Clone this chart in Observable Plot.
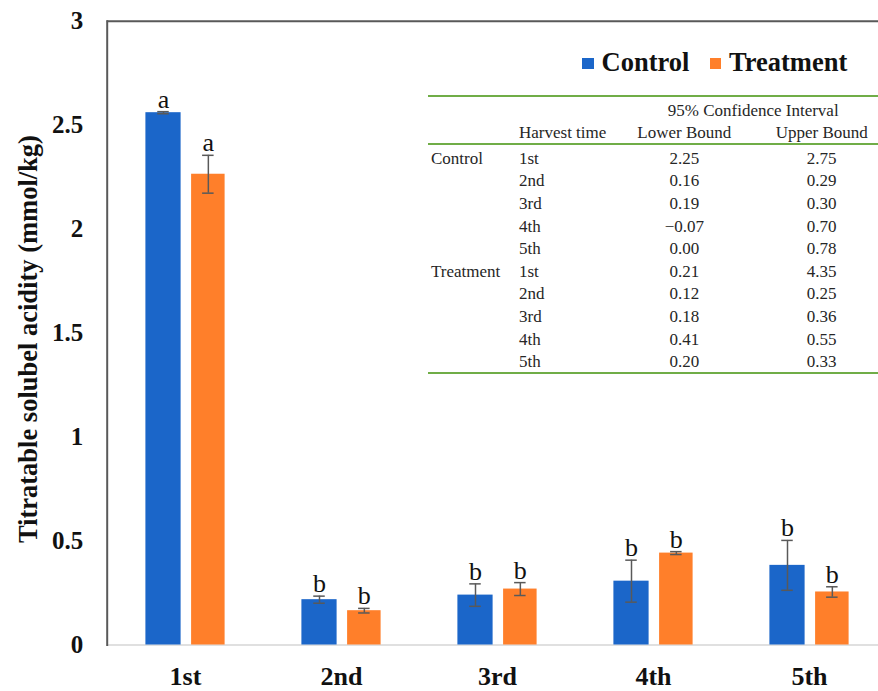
<!DOCTYPE html>
<html><head><meta charset="utf-8">
<script src="https://cdn.jsdelivr.net/npm/d3@7"></script>
<script src="https://cdn.jsdelivr.net/npm/@observablehq/plot@0.6"></script>
<style>
body{margin:0;background:#fff;}
#wrap{position:relative;width:878px;height:691px;font-family:"Liberation Serif","Times New Roman",serif;overflow:hidden;}
.t{position:absolute;font-size:17px;line-height:17px;color:#262626;white-space:nowrap;font-family:"Liberation Serif","Times New Roman",serif;}
.c{transform:translateX(-50%);}
.g{position:absolute;left:428px;width:450px;height:2px;background:#70ad47;}
.lg{position:absolute;font-size:26.5px;line-height:26.5px;font-weight:bold;color:#111;white-space:nowrap;font-family:"Liberation Serif","Times New Roman",serif;}
.sq{position:absolute;width:11.5px;height:11.5px;}
</style></head><body><div id="wrap"></div>
<script>
// ---- data ----
const times = ["1st", "2nd", "3rd", "4th", "5th"];
const controlMean = [2.56, 0.218, 0.240, 0.307, 0.383];
const controlErr  = [0.005, 0.017, 0.054, 0.101, 0.120];
const treatMean   = [2.264, 0.165, 0.269, 0.442, 0.255];
const treatErr    = [0.091, 0.011, 0.031, 0.007, 0.025];
const controlLetters = ["a", "b", "b", "b", "b"];
const treatLetters   = ["a", "b", "b", "b", "b"];
const yTicks = [0, 0.5, 1, 1.5, 2, 2.5, 3];
const seriesNames = ["Control", "Treatment"];
const seriesColors = ["#1b66c9", "#ff7f2a"];

// confidence-interval table
const ciGroups = ["Control", "Treatment"];
const ctrlLower = ["2.25", "0.16", "0.19", "\u22120.07", "0.00"];
const ctrlUpper = ["2.75", "0.29", "0.30", "0.70", "0.78"];
const trtLower  = ["0.21", "0.12", "0.18", "0.41", "0.20"];
const trtUpper  = ["4.35", "0.25", "0.36", "0.55", "0.33"];

const ctrl = times.map((t, i) => ({time: t, value: controlMean[i], err: controlErr[i], letter: controlLetters[i]}));
const trt  = times.map((t, i) => ({time: t, value: treatMean[i], err: treatErr[i], letter: treatLetters[i]}));

const font = "Liberation Serif, Times New Roman, serif";
const band = 156.5, half = band / 2;
const cOff = -22, tOff = 22.85;
const capHalf = 6;

function series(data, color, off, barL, barR) {
  return [
    Plot.barY(data, {x: "time", y: "value", fill: color, insetLeft: barL, insetRight: barR}),
    Plot.ruleX(data, {x: "time", y1: d => d.value - d.err, y2: d => d.value + d.err, dx: off, stroke: "#595959", strokeWidth: 1.5}),
    Plot.tickY(data, {x: "time", y: d => d.value + d.err, stroke: "#595959", strokeWidth: 1.5,
      insetLeft: half + off - capHalf, insetRight: half - off - capHalf}),
    Plot.tickY(data, {x: "time", y: d => d.value - d.err, stroke: "#595959", strokeWidth: 1.5,
      insetLeft: half + off - capHalf, insetRight: half - off - capHalf}),
    Plot.text(data, {x: "time", y: d => d.value + d.err, text: "letter", dx: off, dy: -4, lineAnchor: "bottom",
      fontSize: 26, fontFamily: font, fill: "#111"})
  ];
}

const chart = Plot.plot({
  width: 878, height: 691,
  marginTop: 20.7, marginBottom: 46.5, marginLeft: 106.7, marginRight: 0,
  style: {fontFamily: font, background: "transparent", overflow: "visible"},
  x: {type: "band", domain: times, range: [106.1, 106.1 + 5 * band], padding: 0, label: null},
  y: {domain: [0, 3], label: null},
  marks: [
    Plot.ruleY([0], {stroke: "#d6d6d6", strokeWidth: 1.5}),
    ...series(ctrl, seriesColors[0], cOff, half + cOff - 17.85, half - cOff - 17.85),
    ...series(trt, seriesColors[1], tOff, half + tOff - 17, half - tOff - 17),
    Plot.ruleY([3], {stroke: "#595959", strokeWidth: 2}),
    Plot.frame({anchor: "left", stroke: "#595959", strokeWidth: 2}),
    Plot.axisY({ticks: yTicks, tickFormat: d => String(d), tickSize: 0, tickPadding: 24, fontSize: 25, fontWeight: "bold", fill: "#111", label: null}),
    Plot.axisX({tickSize: 0, tickPadding: 22, fontSize: 26, fontWeight: "bold", fill: "#111", label: null}),
    Plot.text(["Titratable solubel acidity (mmol/kg)"], {frameAnchor: "left", textAnchor: "middle", lineAnchor: "middle", rotate: -90, dx: -79, dy: 6, fontSize: 26.5, fontWeight: "bold", fontFamily: font, fill: "#111"})
  ]
});

const wrap = document.getElementById("wrap");
chart.style.position = "absolute"; chart.style.left = "0"; chart.style.top = "0";
wrap.appendChild(chart);

function add(cls, text, left, top, extra) {
  const d = document.createElement("div");
  d.className = cls; d.textContent = text;
  d.style.left = left + "px"; d.style.top = top + "px";
  if (extra) Object.assign(d.style, extra);
  wrap.appendChild(d);
  return d;
}

// legend
const legendX = [[582, 601.5], [709.5, 729]];
seriesNames.forEach((name, i) => {
  const sq = document.createElement("div");
  sq.className = "sq"; sq.style.left = legendX[i][0] + "px"; sq.style.top = "57.8px"; sq.style.background = seriesColors[i];
  wrap.appendChild(sq);
  add("lg", name, legendX[i][1], 62 - 13.25);
});

// table lines
[95.7, 144.3, 373.3].forEach(y => { const g = document.createElement("div"); g.className = "g"; g.style.top = (y - 1) + "px"; wrap.appendChild(g); });

const colGroup = 431, colTime = 519, colLow = 684.3, colUp = 821.7;
add("t c", "95% Confidence Interval", 753.2, 110 - 8.5);
add("t", "Harvest time", colTime, 132.7 - 8.5);
add("t c", "Lower Bound", colLow, 132.7 - 8.5);
add("t c", "Upper Bound", colUp, 132.7 - 8.5);
const lowers = [ctrlLower, trtLower], uppers = [ctrlUpper, trtUpper];
ciGroups.forEach((g, gi) => {
  times.forEach((t, i) => {
    const y = 158.3 + (gi * times.length + i) * 22.6 - 8.5;
    if (i === 0) add("t", g, colGroup, y);
    add("t", t, colTime, y);
    add("t c", lowers[gi][i], colLow, y);
    add("t c", uppers[gi][i], colUp, y);
  });
});
</script></body></html>
